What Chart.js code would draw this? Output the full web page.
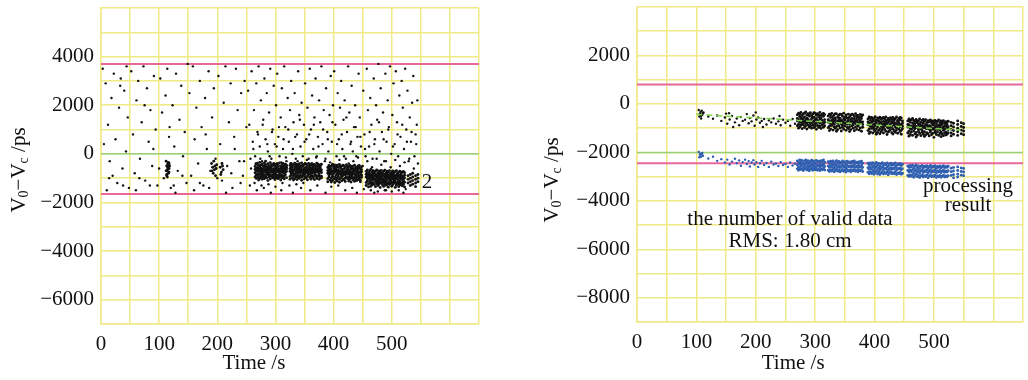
<!DOCTYPE html>
<html>
<head>
<meta charset="utf-8">
<script src="https://cdn.jsdelivr.net/npm/chart.js@4"></script>
<style>
  html, body { margin: 0; padding: 0; background: #fff; }
  .panel { position: absolute; top: 0; width: 514px; height: 380px; }
</style>
</head>
<body>
<div class="panel" style="left:0"><canvas id="leftChart"></canvas></div>
<div class="panel" style="left:514px"><canvas id="rightChart"></canvas></div>
<script>
// ---- axes ----
const xRange = [0, 650];
const xLabels = [0, 100, 200, 300, 400, 500];
const leftYRange = [-7000, 6000];
const leftYLabels = [-6000, -4000, -2000, 0, 2000, 4000];
const rightYRange = [-9000, 4000];
const rightYLabels = [-8000, -6000, -4000, -2000, 0, 2000];

// ---- reference lines ----
const leftLimits = [3700, -1650];
const leftCenter = 0;
const rightLimits = [800, -2450];
const rightCenter = -2000;
const fitLine = [[100, -430], [545, -1080]];

// ---- left panel: scattered raw points [time, value] ----
const leftSparse = [
  [3,3500],[8,2900],[12,1200],[15,-300],[18,2300],[22,3300],[25,600],[28,-1200],[31,1900],[34,3100],[37,-600],[40,2600],[43,100],[46,1500],[48,-1400],[5,400],[20,-900],[33,2800],[44,3600],[10,-1500],
  [52,3400],[55,800],[58,-800],[61,2200],[64,3000],[67,-200],[70,1300],[73,3600],[76,-1100],[79,2700],[82,500],[85,1800],[88,-500],[91,3200],[94,1000],[97,-1300],[60,-1500],[75,2000],[90,200],
  [102,3100],[105,1700],[108,-1000],[111,2400],[114,3500],[117,700],[120,-1400],[123,2000],[126,300],[129,3300],[132,-700],[135,1400],[138,2800],[141,-100],[144,900],[147,-1200],[149,3700],[118,1100],[128,-1600],
  [152,2500],[155,-900],[158,3600],[161,600],[164,1900],[167,-400],[170,3000],[173,1100],[176,-1300],[179,2300],[182,200],[185,3400],[188,-700],[191,1500],[194,2700],[197,-200],[160,-1500],[180,800],
  [202,3200],[205,400],[208,-1100],[211,2100],[214,3600],[217,-500],[220,1300],[223,2900],[226,-1400],[229,700],[232,3500],[235,1800],[238,-300],[241,2500],[244,-900],[247,3000],[250,1100],[215,-1600],[230,200],
  [253,2600],[255,1200],[257,-200],[259,3400],[261,500],[263,1800],[265,-100],[267,2900],[269,900],[271,3600],[273,300],[275,2200],[277,-300],[279,1400],[281,3100],[283,600],[285,2500],[287,100],[289,1700],[291,3500],[293,-200],[295,1000],[297,2800],[299,400],[268,-1500],[280,-1400],[292,-1600],[256,-1300],
  [301,2000],[303,3300],[305,700],[307,-100],[309,1500],[311,2700],[313,200],[315,3600],[317,1100],[319,-300],[321,2300],[323,500],[325,1800],[327,3000],[329,0],[331,1300],[333,2500],[335,-200],[337,800],[339,3400],[341,1600],[343,300],[345,2100],[347,-100],[349,1200],[310,-1500],[330,-1600],[344,-1400],
  [351,2900],[353,600],[355,1900],[357,-200],[359,3500],[361,1000],[363,2400],[365,200],[367,1500],[369,3100],[371,-100],[373,700],[375,2200],[377,1300],[379,3600],[381,400],[383,1800],[385,-300],[387,2700],[389,900],[391,100],[393,1600],[395,3200],[397,500],[399,2000],[360,-1500],[386,-1600],
  [401,3400],[403,1200],[405,-100],[407,2500],[409,600],[411,1900],[413,3000],[415,200],[417,1400],[419,2200],[421,-200],[423,900],[425,3600],[427,1700],[429,400],[431,2800],[433,100],[435,1100],[437,2000],[439,-100],[441,700],[443,3300],[445,1500],[447,300],[420,-1500],[440,-1600],
  [451,2600],[453,800],[455,-100],[457,3500],[459,1800],[461,300],[463,2300],[465,1200],[467,-200],[469,3100],[471,600],[473,2000],[475,1400],[477,3700],[479,100],[481,2700],[483,900],[485,1700],[487,-300],[489,3300],[491,500],[493,2200],[495,1100],[497,3600],[499,0],[470,-1600],[490,-1500],
  [501,1600],[503,2900],[505,400],[507,3400],[509,1300],[511,-100],[513,2400],[515,700],[517,3000],[519,1900],[521,200],[523,3500],[525,1000],[527,2600],[529,-300],[531,1500],[533,500],[535,2100],[537,3200],[539,-100],[541,800],[543,1200],[544,2200],[545,-400],[520,-1600],
  [258,-600],[262,200],[266,-400],[270,800],[274,-200],[278,1200],[282,-500],[286,400],[290,-100],[294,900],[298,-450],[302,300],[306,1100],[310,-350],[314,600],[318,-150],[322,1000],[326,-400],[330,200],[334,700],
  [338,-300],[342,1400],[346,-500],[350,500],[354,-250],[358,800],[362,-400],[366,1200],[370,-150],[374,300],[378,-450],[382,1000],[386,-200],[390,600],[394,-350],[398,1300],[402,-450],[406,400],[410,-250],[414,800],
  [418,-100],[422,1500],[426,-400],[430,500],[434,-300],[438,1100],[442,-150],[446,700],[450,-500],[454,200],[458,-300],[462,900],[466,-550],[470,400],[474,-200],[478,1300],[482,-450],[486,600],[490,-300],[494,1000],
  [498,-550],[502,300],[506,-250],[510,800],[514,-500],[518,1200],[522,-350],[526,500],[530,-200],[534,900],[538,-600],[542,400],
  [264,-1200],[276,-1300],[288,-1250],[300,-1350],[312,-1200],[324,-1300],[336,-1250],[348,-1200],[372,-1300],[396,-1350],[408,-1300],[432,-1400],[452,-1450],[464,-1500],[476,-1550],[488,-1500],[500,-1550],[512,-1500],[524,-1450],
  [14,-1000],[38,-1300],[66,-1000],[84,-1300],[100,-600],[125,-1300],[140,-900],[170,-1200],[186,-1400],[200,-1000],[224,-800],[240,-1200],[246,-300]
];

// ---- left panel: dense columns [time, values...] ----
const leftDense = [
  [112,-300,-700],[113,-500,-900,-850],[114,-700,-650,-950],[115,-400,-550,-450],[116,-800,-350,-600],[117,-600,-750,-400],[118,-500],
  [190,-400],[191,-700],[192,-550],[193,-800],[194,-300],[195,-650],[196,-500],[197,-900],[198,-600],[199,-450],[205,-550],[206,-850],[207,-750],[208,-400],[209,-500],[210,-650],
  [265,-520,-780,-950,-640],[267,-430,-700,-880,-1010,-600],[269,-560,-820,-690,-980,-380],[271,-470,-740,-910,-620,-1080],[273,-350,-660,-850,-1000,-540],
  [275,-590,-790,-940,-470,-700],[277,-420,-630,-870,-1050,-760],[279,-500,-720,-960,-610,-830],[281,-380,-680,-890,-560,-1020],[283,-450,-770,-930,-650,-300],
  [285,-530,-710,-990,-840,-620],[287,-410,-600,-860,-750,-1100],[289,-490,-800,-950,-670,-560],[291,-360,-690,-880,-1030,-580],[293,-540,-760,-920,-640,-450],
  [295,-470,-650,-870,-990,-730],[297,-390,-720,-960,-610,-830],[299,-510,-780,-900,-680,-1060],[301,-440,-630,-850,-1000,-560],[303,-560,-740,-940,-700,-400],
  [305,-480,-690,-880,-1020,-610],[307,-370,-770,-960,-650,-840],[309,-520,-710,-900,-590,-1080],[311,-450,-660,-870,-990,-760],[313,-400,-730,-950,-620,-540],
  [315,-500,-800,-910,-680,-1030],[317,-430,-640,-860,-760,-580],[319,-550,-720,-980,-620,-470],
  [325,-480,-720,-930,-610,-1050],[327,-400,-680,-870,-790,-560],[329,-530,-760,-990,-640,-450],[331,-460,-700,-910,-820,-1080],[333,-380,-640,-860,-1020,-570],
  [335,-510,-780,-950,-680,-420],[337,-440,-720,-890,-600,-1060],[339,-560,-660,-970,-810,-490],[341,-410,-750,-920,-630,-1010],[343,-490,-690,-880,-560,-770],
  [345,-370,-730,-960,-640,-1090],[347,-520,-800,-900,-670,-460],[349,-450,-620,-870,-1030,-740],[351,-580,-710,-940,-820,-400],[353,-430,-760,-990,-650,-560],
  [355,-500,-680,-910,-1070,-790],[357,-390,-640,-850,-720,-600],[359,-540,-780,-960,-690,-460],[361,-470,-700,-890,-1040,-620],[363,-410,-740,-930,-580,-810],
  [365,-550,-660,-980,-700,-480],[367,-440,-790,-900,-630,-1060],[369,-500,-720,-870,-760,-580],[371,-380,-680,-950,-1010,-640],[373,-520,-750,-910,-600,-430],
  [375,-460,-700,-880,-820,-1050],[377,-570,-640,-960,-720,-500],[379,-430,-770,-920,-660,-990],
  [390,-560,-800,-1020,-690,-1150],[392,-480,-740,-950,-870,-620],[394,-600,-830,-1080,-710,-520],[396,-510,-770,-990,-650,-1160],[398,-430,-720,-930,-860,-1100],
  [400,-580,-810,-1040,-700,-490],[402,-520,-760,-970,-640,-1180],[404,-620,-690,-1060,-890,-550],[406,-470,-820,-1000,-730,-1120],[408,-550,-750,-940,-660,-850],
  [410,-440,-790,-1050,-720,-1170],[412,-590,-850,-980,-700,-510],[414,-510,-700,-930,-1110,-800],[416,-640,-780,-1030,-890,-470],[418,-500,-830,-1070,-730,-620],
  [420,-560,-760,-990,-1140,-860],[422,-450,-710,-950,-800,-680],[424,-600,-840,-1020,-760,-520],[426,-530,-780,-960,-1120,-650],[428,-480,-820,-1050,-700,-900],
  [430,-580,-740,-990,-630,-1160],[432,-510,-800,-940,-870,-560],[434,-620,-760,-1080,-700,-1010],[436,-470,-830,-970,-650,-1130],[438,-550,-720,-1030,-880,-600],
  [440,-590,-790,-950,-1100,-700],[442,-500,-850,-1060,-740,-640],[444,-560,-770,-1000,-920,-480],[446,-610,-810,-1080,-720,-1150],[448,-530,-740,-960,-880,-650],
  [456,-720,-950,-1180,-840,-1300],[458,-660,-900,-1120,-1020,-800],[460,-780,-1000,-1240,-880,-1360],[462,-700,-930,-1150,-1060,-820],[464,-640,-870,-1210,-980,-1330],
  [466,-760,-1010,-1100,-900,-1270],[468,-690,-950,-1190,-830,-1060],[470,-800,-1030,-1260,-920,-720],[472,-720,-880,-1140,-1040,-1350],[474,-660,-970,-1220,-860,-1090],
  [476,-780,-1000,-1170,-930,-1300],[478,-700,-910,-1250,-1080,-830],[480,-750,-990,-1150,-870,-1380],[482,-680,-940,-1200,-1050,-810],[484,-800,-1020,-1270,-910,-1130],
  [486,-720,-880,-1180,-1060,-1340],[488,-670,-960,-1230,-850,-1100],[490,-790,-1010,-1160,-940,-1290],[492,-710,-900,-1250,-1070,-820],[494,-760,-980,-1190,-880,-1370],
  [496,-690,-1030,-1140,-950,-1260],[498,-810,-920,-1220,-1080,-860],[500,-740,-1000,-1170,-900,-1330],[502,-700,-960,-1260,-1040,-830],[504,-780,-1010,-1200,-890,-1120],
  [506,-730,-930,-1150,-1070,-1380],[508,-690,-990,-1240,-870,-1290],[510,-800,-1050,-1180,-950,-840],[512,-750,-900,-1230,-1100,-1350],[514,-710,-1000,-1160,-880,-1280],
  [516,-790,-960,-1220,-1060,-850],[518,-760,-1020,-1190,-920,-1310],[520,-720,-940,-1250,-1080,-1140],[522,-780,-990,-1170,-880,-1360],
  [528,-900,-1050,-1200],[532,-850,-1000,-1150,-1300],[536,-800,-950,-1100,-1250],[541,-900,-1050,-1200,-1350],[545,-850,-1000,-1150]
];

// ---- right panel: processed points (black) ----
const rightSparse = [
  [104,-250],[106,-400],[107,-330],[108,-500],[109,-280],[110,-450],[111,-380],[105,-520],[112,-350],[108,-600],
  [120,-520],[128,-610],[135,-480],[142,-700],[148,-560],[152,-820],[156,-640],[160,-500],[165,-760],[168,-600],[172,-880],[175,-540],[178,-700],[182,-650],[185,-420],[188,-800],[190,-580],[193,-720],[196,-480],[198,-900],
  [201,-640],[204,-560],[207,-780],[210,-700],[214,-620],[218,-850],[222,-680],[226,-760],[230,-600],[234,-820],[238,-720],[242,-880],[246,-650],[250,-780],[254,-700],[258,-900],[262,-620],[266,-820],[150,-400],[155,-380],[162,-950],[200,-350],[212,-950],[240,-500]
];
const rightDense = [
  [270,-450,-700,-900,-600],[272,-380,-640,-850,-1000],[274,-520,-760,-950,-420],[276,-350,-680,-880,-570],[278,-480,-800,-1020,-650],[280,-410,-600,-860,-740],
  [282,-540,-720,-970,-380],[284,-330,-660,-900,-800],[286,-460,-780,-1040,-590],[288,-400,-640,-870,-720],[290,-510,-750,-960,-430],[292,-360,-690,-910,-820],
  [294,-490,-610,-1000,-740],[296,-420,-770,-880,-560],[298,-550,-700,-980,-360],[300,-380,-650,-930,-820],[302,-470,-790,-1050,-600],[304,-400,-680,-890,-740],
  [306,-530,-740,-970,-450],[308,-350,-620,-920,-800],[310,-480,-760,-1010,-580],[312,-420,-700,-870,-680],[314,-510,-800,-960,-390],[316,-440,-650,-900,-760],
  [322,-500,-760,-980,-650],[324,-420,-700,-920,-1100],[326,-560,-820,-1040,-460],[328,-390,-680,-890,-760],[330,-520,-790,-1080,-620],[332,-450,-720,-950,-840],
  [334,-580,-660,-1010,-400],[336,-410,-770,-930,-1130],[338,-540,-810,-1060,-700],[340,-470,-690,-900,-600],[342,-600,-750,-990,-420],[344,-430,-830,-1120,-680],
  [346,-510,-710,-960,-880],[348,-380,-780,-1040,-620],[350,-560,-660,-910,-800],[352,-450,-800,-1090,-500],[354,-590,-730,-970,-840],[356,-420,-690,-1020,-600],
  [358,-530,-820,-940,-1140],[360,-470,-740,-1060,-650],[362,-600,-700,-900,-420],[364,-440,-780,-1000,-860],[366,-520,-720,-1110,-620],[368,-400,-810,-950,-700],
  [370,-570,-680,-1050,-480],[372,-480,-760,-920,-880],[374,-550,-830,-1080,-640],[376,-430,-700,-990,-780],[378,-510,-770,-1130,-600],[380,-460,-740,-960,-850],
  [389,-620,-860,-1100,-740],[391,-540,-800,-1030,-1220],[393,-680,-920,-1160,-580],[395,-560,-760,-1010,-870],[397,-700,-940,-1200,-640],[399,-600,-830,-1070,-980],
  [401,-530,-890,-1140,-720],[403,-660,-790,-1040,-1250],[405,-580,-950,-1180,-700],[407,-710,-850,-1090,-600],[409,-550,-780,-1020,-1230],[411,-640,-910,-1150,-760],
  [413,-590,-840,-1080,-980],[415,-720,-960,-1200,-560],[417,-620,-800,-1050,-880],[419,-540,-880,-1130,-700],[421,-680,-940,-1260,-810],[423,-600,-770,-1000,-1160],
  [425,-700,-900,-1120,-640],[427,-570,-820,-1060,-960],[429,-650,-930,-1190,-740],[431,-560,-790,-1030,-1240],[433,-690,-870,-1110,-620],[435,-610,-950,-1170,-800],
  [437,-540,-820,-1080,-990],[439,-720,-900,-1210,-680],[441,-600,-780,-1040,-870],[443,-660,-940,-1140,-560],[445,-580,-850,-1090,-1250],[447,-700,-800,-1020,-920],
  [456,-700,-950,-1200,-850],[458,-620,-880,-1130,-1330],[460,-760,-1010,-1260,-680],[462,-650,-910,-1160,-1050],[464,-790,-980,-1300,-600],[466,-680,-870,-1120,-950],
  [468,-730,-1020,-1240,-820],[470,-640,-930,-1180,-1370],[472,-780,-990,-1290,-700],[474,-700,-860,-1140,-1060],[476,-620,-960,-1220,-830],[478,-760,-1030,-1310,-900],
  [480,-680,-890,-1170,-1080],[482,-800,-970,-1250,-640],[484,-710,-920,-1150,-1340],[486,-650,-1000,-1280,-860],[488,-770,-880,-1190,-1020],[490,-690,-950,-1230,-760],
  [492,-740,-1040,-1320,-900],[494,-660,-910,-1160,-1090],[496,-790,-990,-1270,-710],[498,-700,-870,-1210,-1050],[500,-760,-1010,-1380,-840],[502,-680,-930,-1180,-1100],
  [504,-810,-960,-1260,-720],[506,-720,-900,-1150,-1030],[508,-660,-1020,-1300,-880],[510,-780,-940,-1220,-1080],[512,-700,-880,-1170,-1350],[514,-750,-1000,-1240,-820],
  [516,-690,-950,-1310,-1090],[518,-800,-1030,-1200,-900],[520,-730,-910,-1160,-1280],[522,-770,-990,-1250,-850],[524,-710,-940,-1190,-1060],
  [529,-760,-900,-1050,-1200,-1320],[533,-800,-950,-1100,-1250],[540,-700,-850,-1000,-1150,-1300],[546,-780,-930,-1080,-1230],[550,-820,-970,-1120,-1270]
];

// ---- right panel: processing result (blue) ----
const blueSparse = [
  [104,-1980],[106,-2100],[107,-2050],[108,-2180],[110,-2020],[111,-2140],[105,-2200],[109,-2080],
  [120,-2250],[128,-2180],[135,-2350],[142,-2280],[148,-2420],[152,-2300],[156,-2500],[160,-2380],[165,-2260],[168,-2450],[172,-2330],[175,-2550],[178,-2400],[182,-2300],[185,-2480],[188,-2360],[190,-2580],
  [193,-2420],[196,-2320],[198,-2500],[201,-2400],[204,-2600],[207,-2450],[210,-2350],[214,-2520],[218,-2440],[222,-2600],[226,-2380],[230,-2500],[234,-2460],[238,-2560],[242,-2400],[246,-2520],[250,-2480],[254,-2600],[258,-2420],[262,-2540],[266,-2470]
];
const blueDense = [
  [270,-2350,-2520,-2680],[272,-2420,-2600,-2740],[274,-2310,-2480,-2650],[276,-2390,-2560,-2710],[278,-2330,-2500,-2670],[280,-2450,-2620,-2750],
  [282,-2360,-2540,-2690],[284,-2310,-2470,-2640],[286,-2410,-2590,-2730],[288,-2340,-2510,-2680],[290,-2430,-2610,-2760],[292,-2370,-2550,-2700],
  [294,-2320,-2490,-2660],[296,-2400,-2580,-2740],[298,-2350,-2520,-2690],[300,-2440,-2610,-2720],[302,-2330,-2500,-2670],[304,-2390,-2570,-2740],
  [306,-2360,-2530,-2700],[308,-2420,-2600,-2750],[310,-2340,-2510,-2680],[312,-2380,-2560,-2720],[314,-2310,-2490,-2660],[316,-2410,-2580,-2730],
  [322,-2380,-2560,-2740],[324,-2440,-2620,-2790],[326,-2360,-2530,-2710],[328,-2420,-2600,-2770],[330,-2350,-2520,-2700],[332,-2470,-2640,-2800],
  [334,-2390,-2570,-2750],[336,-2340,-2510,-2690],[338,-2430,-2610,-2780],[340,-2370,-2550,-2720],[342,-2460,-2630,-2800],[344,-2400,-2580,-2760],
  [346,-2350,-2530,-2700],[348,-2440,-2600,-2780],[350,-2380,-2560,-2730],[352,-2470,-2640,-2810],[354,-2360,-2540,-2710],[356,-2420,-2590,-2770],
  [358,-2390,-2570,-2740],[360,-2450,-2620,-2800],[362,-2370,-2550,-2720],[364,-2410,-2590,-2760],[366,-2350,-2520,-2700],[368,-2440,-2610,-2780],
  [370,-2400,-2570,-2750],[372,-2460,-2630,-2800],[374,-2380,-2550,-2730],[376,-2420,-2600,-2770],[378,-2360,-2540,-2710],[380,-2450,-2620,-2790],
  [389,-2450,-2630,-2820],[391,-2520,-2700,-2880],[393,-2440,-2610,-2800],[395,-2500,-2680,-2870],[397,-2430,-2600,-2790],[399,-2550,-2720,-2900],
  [401,-2470,-2650,-2830],[403,-2420,-2590,-2780],[405,-2530,-2710,-2890],[407,-2460,-2640,-2820],[409,-2560,-2730,-2910],[411,-2480,-2660,-2850],
  [413,-2430,-2610,-2800],[415,-2540,-2720,-2890],[417,-2470,-2650,-2830],[419,-2510,-2690,-2870],[421,-2440,-2620,-2810],[423,-2560,-2740,-2920],
  [425,-2490,-2670,-2850],[427,-2450,-2630,-2800],[429,-2530,-2700,-2880],[431,-2470,-2650,-2840],[433,-2520,-2690,-2880],[435,-2440,-2620,-2810],
  [437,-2550,-2730,-2910],[439,-2480,-2660,-2850],[441,-2510,-2690,-2870],[443,-2460,-2640,-2830],[445,-2540,-2720,-2900],[447,-2490,-2670,-2860],
  [456,-2560,-2750,-2950],[458,-2620,-2810,-3000],[460,-2540,-2730,-2930],[462,-2600,-2790,-2990],[464,-2530,-2720,-2920],[466,-2650,-2840,-3030],
  [468,-2570,-2760,-2960],[470,-2520,-2710,-2900],[472,-2630,-2820,-3010],[474,-2560,-2750,-2950],[476,-2660,-2850,-3040],[478,-2580,-2770,-2970],
  [480,-2540,-2730,-2930],[482,-2640,-2830,-3020],[484,-2570,-2760,-2960],[486,-2610,-2800,-3000],[488,-2550,-2740,-2940],[490,-2660,-2850,-3050],
  [492,-2590,-2780,-2980],[494,-2540,-2730,-2930],[496,-2630,-2820,-3010],[498,-2570,-2760,-2960],[500,-2610,-2800,-3000],[502,-2550,-2740,-2940],
  [504,-2650,-2840,-3040],[506,-2580,-2770,-2970],[508,-2620,-2810,-3010],[510,-2560,-2750,-2950],[512,-2640,-2830,-3030],[514,-2590,-2780,-2980],
  [516,-2550,-2740,-2940],[518,-2630,-2820,-3020],[520,-2580,-2770,-2970],[522,-2620,-2810,-3010],[524,-2570,-2760,-2960],
  [529,-2650,-2800,-2950],[533,-2620,-2770,-2920,-3050],[540,-2600,-2750,-2900,-3020],[546,-2640,-2790,-2940],[550,-2660,-2810,-2960]
];

// ---- helpers ----
const FONT = "'Liberation Serif', 'DejaVu Serif', serif";
const GRID = '#efe986';
const RED = '#e9689a';
const GREEN = '#96d07e';
const MINUS = '\u2212';

const pairs = arr => arr.map(p => ({x: p[0], y: p[1]}));
const columns = arr => arr.flatMap(c => c.slice(1).map(y => ({x: c[0], y: y})));
const hline = (y, color, width) => ({
    type: 'line',
    data: [{x: xRange[0], y: y}, {x: xRange[1], y: y}],
    borderColor: color, borderWidth: width, pointRadius: 0, order: 5
});
const dots = (data, color, r) => ({
    type: 'scatter', data: data, backgroundColor: color, borderWidth: 0,
    pointRadius: r, pointHoverRadius: r, order: 2
});
const fmt = v => (v < 0 ? MINUS + Math.abs(v) : String(v));

// axis titles with subscripts + free text
const textPlugin = {
    id: 'texts',
    afterDraw(chart, args, opts) {
        const ctx = chart.ctx;
        ctx.save();
        ctx.fillStyle = '#111';
        ctx.textBaseline = 'middle';
        // x title
        ctx.font = '21px ' + FONT;
        ctx.textAlign = 'center';
        ctx.fillText('Time /s', chart.scales.x.getPixelForValue(opts.xTitleAt), opts.xTitleY);
        // y title, rotated, V0−Vc /ps
        const parts = [['V', 21, 0], ['0', 14, 5], [MINUS + 'V', 21, 0], ['c', 14, 5], [' /ps', 21, 0]];
        let total = 0;
        parts.forEach(p => { ctx.font = p[1] + 'px ' + FONT; total += ctx.measureText(p[0]).width; });
        ctx.translate(opts.yTitleX, opts.yTitleY);
        ctx.rotate(-Math.PI / 2);
        ctx.textAlign = 'left';
        let pos = -total / 2;
        parts.forEach(p => {
            ctx.font = p[1] + 'px ' + FONT;
            ctx.fillText(p[0], pos, p[2]);
            pos += ctx.measureText(p[0]).width;
        });
        ctx.setTransform(1, 0, 0, 1, 0, 0);
        ctx.textAlign = 'center';
        (opts.notes || []).forEach(n => {
            ctx.font = n.size + 'px ' + FONT;
            ctx.fillText(n.text, n.x, n.y);
        });
        ctx.restore();
    }
};

function makeOptions(yRange, yLabels, yWidth, padRight, padTop, xHeight, texts) {
    return {
        responsive: false,
        animation: false,
        layout: { padding: { left: 0, right: padRight, top: padTop, bottom: 0 } },
        plugins: { legend: { display: false }, tooltip: { enabled: false }, texts: texts },
        scales: {
            x: {
                type: 'linear', min: xRange[0], max: xRange[1],
                grid: { color: GRID, lineWidth: 1.5, drawTicks: false },
                border: { color: GRID, width: 1.5 },
                afterFit: s => { s.height = xHeight; s.paddingLeft = 0; s.paddingRight = 0; },
                ticks: {
                    stepSize: 50, autoSkip: false, maxRotation: 0, padding: 8,
                    color: '#111', font: { family: FONT, size: 21 },
                    callback: v => (xLabels.includes(v) ? fmt(v) : '')
                }
            },
            y: {
                type: 'linear', min: yRange[0], max: yRange[1],
                grid: { color: GRID, lineWidth: 1.5, drawTicks: false },
                border: { color: GRID, width: 1.5 },
                afterFit: s => { s.width = yWidth; s.paddingTop = 0; s.paddingBottom = 0; },
                ticks: {
                    stepSize: 1000, autoSkip: false, padding: 7,
                    color: '#111', font: { family: FONT, size: 21 },
                    callback: v => (yLabels.includes(v) ? fmt(v) : '')
                }
            }
        }
    };
}

document.addEventListener('DOMContentLoaded', function () {
    const ctxLeft = document.getElementById('leftChart');
    ctxLeft.width = 514; ctxLeft.height = 380;
    const ctxRight = document.getElementById('rightChart');
    ctxRight.width = 514; ctxRight.height = 380;

    new Chart(ctxLeft, {
        type: 'scatter',
        data: {
            datasets: [
                dots(pairs(leftSparse), '#111', 1.2),
                dots(columns(leftDense), '#111', 1.45),
                hline(leftLimits[0], RED, 2),
                hline(leftLimits[1], RED, 2),
                hline(leftCenter, GREEN, 1.5)
            ]
        },
        options: makeOptions(leftYRange, leftYLabels, 101, 35, 8, 56, {
            xTitleAt: 263, xTitleY: 363, yTitleX: 19, yTitleY: 170,
            notes: [{ text: '2', x: 427, y: 182, size: 21 }]
        }),
        plugins: [textPlugin]
    });

    new Chart(ctxRight, {
        type: 'scatter',
        data: {
            datasets: [
                {
                    type: 'line', data: pairs(fitLine), borderColor: '#7fd24a', borderWidth: 1.5,
                    borderDash: [6, 4], pointRadius: 0, order: 1
                },
                dots(pairs(rightSparse), '#111', 1.2),
                dots(columns(rightDense), '#111', 1.45),
                dots(pairs(blueSparse), '#2f5fb0', 1.2),
                dots(columns(blueDense), '#2f5fb0', 1.45),
                hline(rightLimits[0], RED, 2),
                hline(rightLimits[1], RED, 2),
                hline(rightCenter, GREEN, 1.5)
            ]
        },
        options: makeOptions(rightYRange, rightYLabels, 123, 5, 7, 58, {
            xTitleAt: 263, xTitleY: 363, yTitleX: 38, yTitleY: 180,
            notes: [
                { text: 'processing', x: 454, y: 186, size: 21 },
                { text: 'result', x: 454, y: 205, size: 21 },
                { text: 'the number of valid data', x: 276, y: 219, size: 21 },
                { text: 'RMS: 1.80 cm', x: 276, y: 241, size: 21 }
            ]
        }),
        plugins: [textPlugin]
    });
});
</script>
</body>
</html>
